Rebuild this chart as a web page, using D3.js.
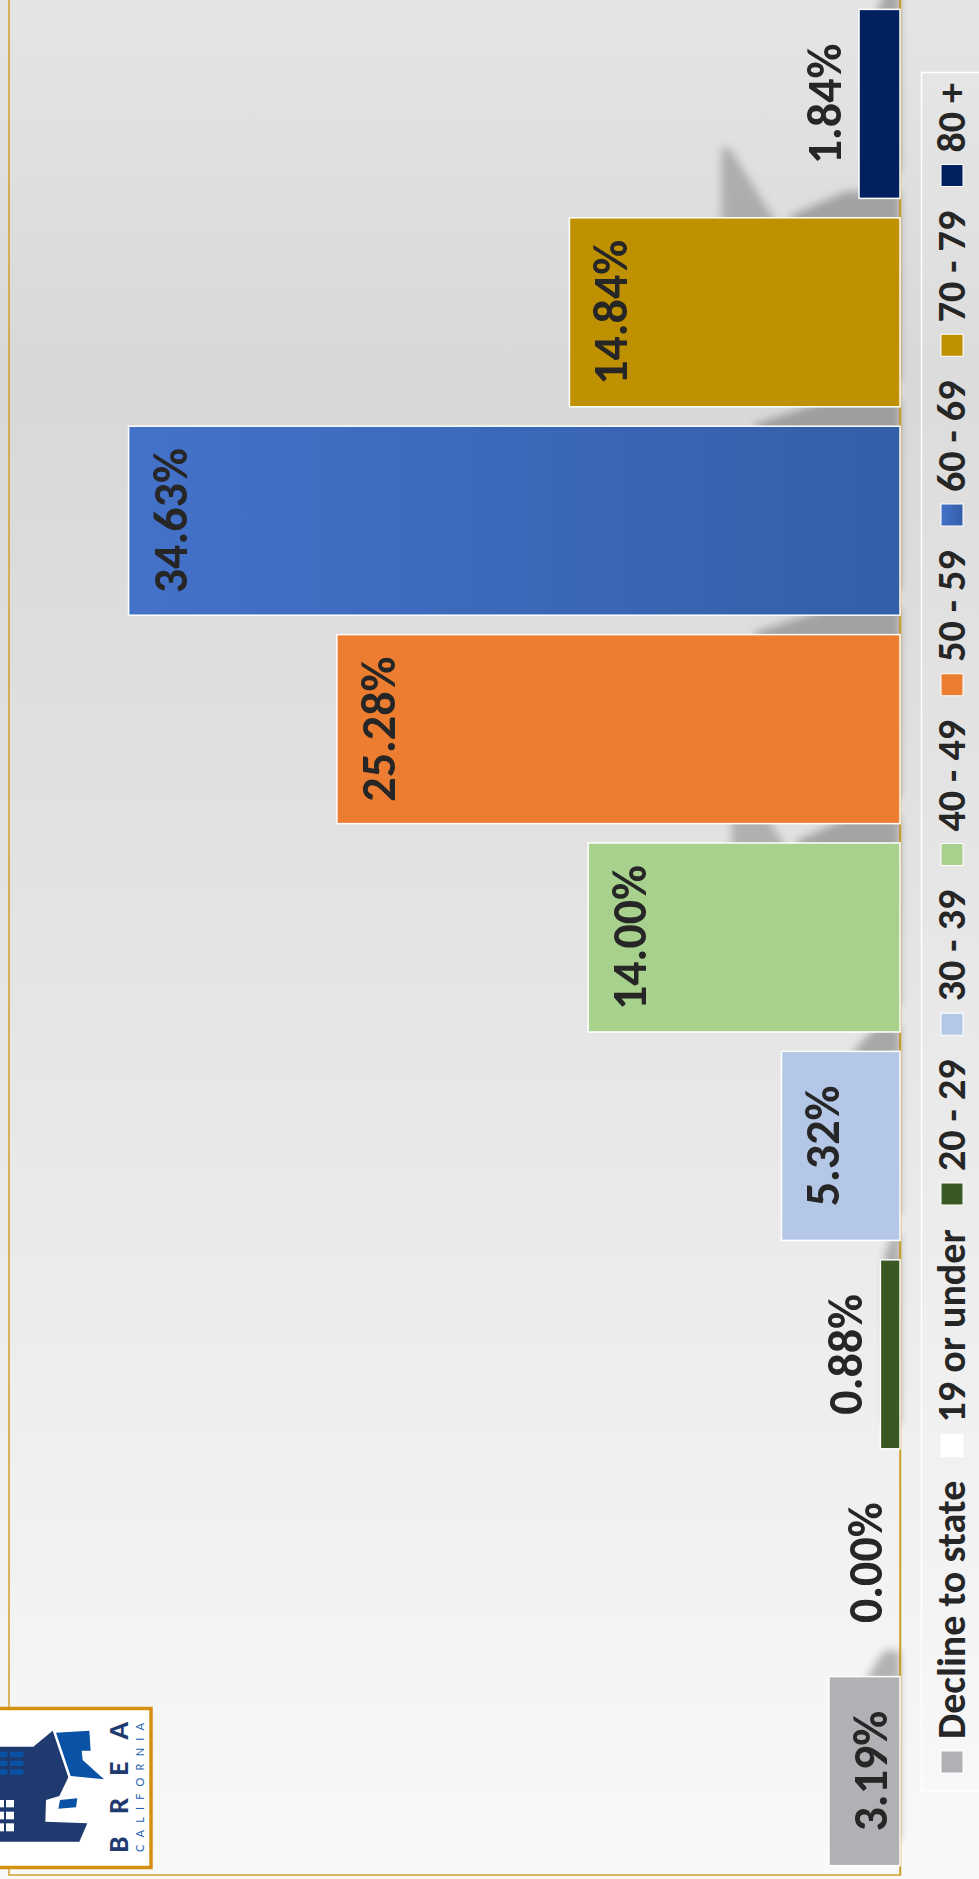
<!DOCTYPE html>
<html><head><meta charset="utf-8">
<script src="https://cdn.jsdelivr.net/npm/d3@7"></script>
<style>html,body{margin:0;padding:0;background:#fff;} svg{display:block;}</style>
</head><body><div id="chart"></div>
<script>
// ---- data ----
const categories = ["Decline to state","19 or under","20 - 29","30 - 39","40 - 49","50 - 59","60 - 69","70 - 79","80 +"];
const values = [3.19, 0.00, 0.88, 5.32, 14.00, 25.28, 34.63, 14.84, 1.84];
const valueLabels = ["3.19%","0.00%","0.88%","5.32%","14.00%","25.28%","34.63%","14.84%","1.84%"];
const barColors = ["#b0b1b5","#ffffff","#3a5823","#b4c7e7","#a9d18e","#ed7d31","url(#blueGrad)","#bf9000","#002060"];
const axisDomain = [0, 40];

// ---- layout ----
const W = 979, H = 1879;
const FONT = "Carlito, Lato, 'Open Sans', sans-serif";
const GOLD = "#cfa12c";
const svg = d3.select("#chart").append("svg").attr("width", W).attr("height", H);
const defs = svg.append("defs");

const bg = defs.append("linearGradient").attr("id","bg").attr("x1",0).attr("y1",0).attr("x2",0).attr("y2",1);
[[0,"#e5e5e5"],[0.2,"#d8d8d8"],[0.55,"#e6e6e6"],[1,"#f9f9f9"]].forEach(s=>bg.append("stop").attr("offset",s[0]).attr("stop-color",s[1]));
const bl = defs.append("linearGradient").attr("id","blueGrad").attr("x1",0).attr("y1",0).attr("x2",1).attr("y2",0);
[[0,"#4472c9"],[1,"#335ea8"]].forEach(s=>bl.append("stop").attr("offset",s[0]).attr("stop-color",s[1]));
const flt = defs.append("filter").attr("id","blur").attr("x","-50%").attr("y","-50%").attr("width","200%").attr("height","200%");
flt.append("feGaussianBlur").attr("stdDeviation",4);

svg.append("rect").attr("width",W).attr("height",H).attr("fill","url(#bg)");

const plotLeft = 9, plotRight = 900, plotBottom = 1875;
const x = d3.scaleLinear().domain(axisDomain).range([plotRight, plotLeft]);
const y = d3.scaleBand().domain(categories.slice().reverse()).range([0, plotBottom])
  .paddingInner(0.093).paddingOuter(0.045);
const data = categories.map((c,i)=>({cat:c, v:values[i], label:valueLabels[i], color:barColors[i]}));

// plot border
svg.append("rect").attr("x",plotLeft).attr("y",-5).attr("width",plotRight-plotLeft).attr("height",plotBottom+5)
  .attr("fill","none").attr("stroke",GOLD).attr("stroke-width",1.5);

// shadows
const shadowG = svg.append("g").attr("filter","url(#blur)");
shadowG.selectAll("path").data(data.filter(d=>d.v>0)).join("path")
  .attr("d", d=>{
    const L = x(0)-x(d.v), ext = Math.min(L*0.3+10, 145), s = 26;
    const y0 = y(d.cat)-s, y1 = y(d.cat)+y.bandwidth()-s, bx = x(0);
    return `M${bx},${y0}L${bx-ext*0.5},${y0}L${bx-ext},${y0+24}L${bx-ext},${y1}L${bx},${y1}Z`;
  })
  .attr("fill","#000").attr("opacity",0.27);
// longer perspective spikes for bars longer than their upper neighbour
shadowG.selectAll("path.spike").data(data.filter(d=>d.v>10 && d.v<20)).join("path").attr("class","spike")
  .attr("d", d=>{
    const y0 = y(d.cat), bx = x(0), L = x(0)-x(d.v);
    const tip = bx - L*0.54;
    return `M${tip},${y0+10}L${tip},${y0-70}L${tip+8},${y0-70}L${tip+58},${y0+10}Z`;
  })
  .attr("fill","#000").attr("opacity",0.22);

// category axis line
svg.append("g").attr("transform",`translate(${plotRight},0)`)
  .call(d3.axisRight(y).tickSize(0).tickFormat(""))
  .call(g=>g.select(".domain").attr("stroke",GOLD).attr("stroke-width",1.5));

// bars
svg.append("g").selectAll("rect").data(data.filter(d=>d.v>0)).join("rect")
  .attr("x", d=>x(d.v)).attr("y", d=>y(d.cat))
  .attr("width", d=>x(0)-x(d.v)).attr("height", y.bandwidth())
  .attr("fill", d=>d.color).attr("stroke","#ffffff").attr("stroke-width",1.5);

// labels
svg.append("g").selectAll("text").data(data).join("text")
  .attr("transform", d=>{
    const L = x(0)-x(d.v);
    const bx = L > 60 ? x(d.v)+58 : x(d.v)-18;
    return `translate(${bx},${y(d.cat)+y.bandwidth()/2}) rotate(-90)`;
  })
  .attr("text-anchor","middle").attr("font-family",FONT).attr("font-weight",700)
  .attr("font-size",48).attr("fill","#262626").text(d=>d.label);

// legend
const legX = 921.5, legTop = 72.5, legBottom = 1791;
svg.append("rect").attr("x",legX).attr("y",legTop).attr("width",80).attr("height",legBottom-legTop)
  .attr("fill","rgba(255,255,255,0.12)").attr("stroke","#ffffff").attr("stroke-width",1.5);
const legG = svg.append("g");
const items = legG.selectAll("g").data(data).join("g");
items.append("rect").attr("class","sw").attr("width",22).attr("height",22)
  .attr("fill",d=>d.color).attr("stroke","#ffffff").attr("stroke-width",1);
items.append("text").attr("font-family",FONT).attr("font-weight",700).attr("font-size",40)
  .attr("fill","#262626").attr("text-anchor","start").text(d=>d.cat);
const widths = [];
items.select("text").each(function(){ widths.push(this.getComputedTextLength()); });
const startU = 106, endU = 1796, swW = 22, swGap = 12;
const natural = d3.sum(widths) + data.length*(swW+swGap);
const gap = (endU-startU-natural)/(data.length-1);
let u = startU;
items.each(function(d,i){
  const g = d3.select(this);
  g.select("rect.sw").attr("x",941).attr("y",H-u-swW);
  g.select("text").attr("transform",`translate(965,${H-(u+swW+swGap)}) rotate(-90)`);
  u += swW + swGap + widths[i] + gap;
});

// logo
const P = (dx,dy)=>[dx/3, 1690+dy/3];
const poly = pts => "M"+pts.map(p=>P(p[0],p[1]).join(",")).join("L")+"Z";
const logo = svg.append("g");
logo.append("rect").attr("x",-4).attr("y",1708.5).attr("width",155).attr("height",159)
  .attr("fill","#ffffff").attr("stroke","#d4900f").attr("stroke-width",3.5);
logo.append("path").attr("fill","#1f3a6e").attr("d", poly([[0,170],[100,170],[158,122],[205,262],[178,318],[138,330],[136,395],[262,400],[238,455],[0,455]]));
logo.append("path").attr("fill","#0a52a6").attr("d", poly([[168,128],[268,122],[272,182],[245,182],[248,210],[312,268],[212,258]]));
logo.append("path").attr("fill","#0a52a6").attr("d", poly([[180,330],[232,325],[228,352],[175,356]]));
[[185,202],[212,228],[238,254]].forEach(r=>{
  [[0,22],[30,70]].forEach(c=>logo.append("path").attr("fill","#0a52a6").attr("d",poly([[c[0],r[0]],[c[1],r[0]],[c[1],r[1]],[c[0],r[1]]])));
});
[[330,352],[365,388],[400,424]].forEach(r=>{
  [[0,12],[18,42]].forEach(c=>logo.append("path").attr("fill","#ffffff").attr("d",poly([[c[0],r[0]],[c[1],r[0]],[c[1],r[1]],[c[0],r[1]]])));
});
logo.append("text").attr("transform","translate(128,1853) rotate(-90)").attr("font-family","Lato, sans-serif")
  .attr("font-weight",900).attr("font-size",25).attr("fill","#1f3a6e")
  .attr("textLength",131).attr("lengthAdjust","spacing").text("BREA");
logo.append("text").attr("transform","translate(143.5,1852) rotate(-90)").attr("font-family","Lato, sans-serif")
  .attr("font-weight",400).attr("font-size",11).attr("fill","#1a5fb0")
  .attr("textLength",129).attr("lengthAdjust","spacing").text("CALIFORNIA");
</script></body></html>
